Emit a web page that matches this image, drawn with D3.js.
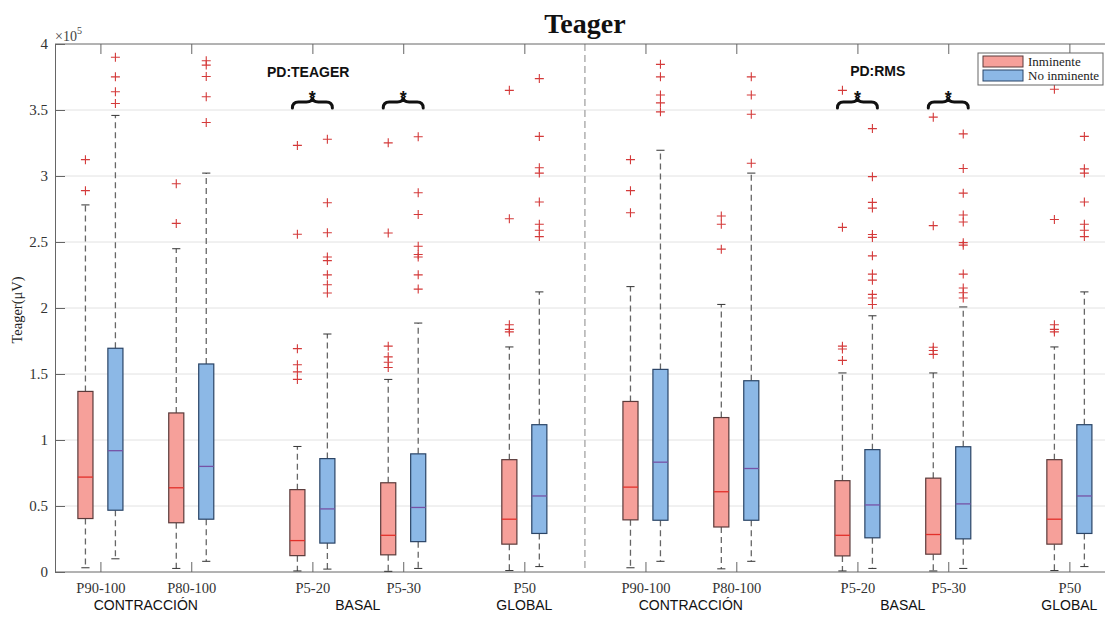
<!DOCTYPE html>
<html>
<head>
<meta charset="utf-8">
<script src="https://cdn.jsdelivr.net/npm/d3@7"></script>
<style>
  html, body { margin: 0; padding: 0; background: #fff; }
  svg { display: block; }
</style>
</head>
<body>
<svg id="chart" width="1105" height="619"></svg>
<script>
// ---------------- DATA ----------------
const categories = ["P90-100","P80-100","P5-20","P5-30","P50","P90-100","P80-100","P5-20","P5-30","P50"];
const groups = ["CONTRACCIÓN","CONTRACCIÓN","BASAL","BASAL","GLOBAL","CONTRACCIÓN","CONTRACCIÓN","BASAL","BASAL","GLOBAL"];
const seriesNames = ["Inminente", "No inminente"];
const yTicks = [0, 50000, 100000, 150000, 200000, 250000, 300000, 350000, 400000];

// Inminente
const inmWhiskerLow  = [3200, 2700, 800, 500, 1100, 3200, 2400, 800, 800, 1100];
const inmQ1          = [40500, 37300, 12400, 13000, 21100, 39500, 34100, 12200, 13500, 21100];
const inmMedian      = [71900, 63800, 23800, 27800, 40000, 64300, 60800, 27800, 28400, 40000];
const inmQ3          = [136800, 120500, 62400, 67600, 85100, 129200, 117000, 69200, 71100, 85100];
const inmWhiskerHigh = [278100, 244900, 95100, 145900, 170500, 216200, 202700, 150800, 150800, 170500];
const inmOutliers = [
  [312400, 288900],
  [294100, 264100],
  [323200, 255900, 169200, 157000, 151600, 145900],
  [325100, 256800, 171100, 163000, 158900, 154900],
  [364900, 267600, 187300, 183800, 181900],
  [312400, 288900, 272200],
  [269700, 263500, 244600],
  [364900, 261100, 171100, 168900, 160300],
  [344600, 262400, 170300, 167800, 164900],
  [365700, 267000, 187300, 183800, 181900]
];

// No inminente
const noWhiskerLow  = [10000, 8100, 2200, 2700, 4100, 8100, 8100, 2700, 2700, 4100];
const noQ1          = [46800, 40000, 21900, 23000, 29200, 39200, 39200, 25900, 25100, 29200];
const noMedian      = [91900, 80000, 47800, 48900, 57600, 83200, 78400, 50800, 51600, 57600];
const noQ3          = [169500, 157600, 85900, 89500, 111600, 153500, 144900, 92700, 94900, 111600];
const noWhiskerHigh = [345900, 302200, 180300, 188600, 212200, 319500, 302200, 194100, 200800, 212200];
const noOutliers = [
  [390000, 375100, 363800, 354900],
  [387300, 384000, 375400, 360000, 340500],
  [327800, 279700, 257000, 238600, 235900, 225100, 217600, 211400],
  [329700, 287300, 270800, 246800, 240500, 238600, 225100, 214300],
  [373800, 330000, 306200, 302200, 280300, 263500, 258900, 254100],
  [384600, 375100, 361400, 355400, 348600],
  [375100, 361400, 346800, 309700],
  [335900, 299500, 280000, 275700, 255700, 253500, 239500, 225700, 221100, 210300, 207600, 202700],
  [331900, 305700, 287000, 270500, 265100, 249500, 247600, 225700, 215100, 211600, 207600],
  [373800, 330000, 305400, 302200, 280300, 263500, 258900, 254100]
];

const annotationLabels = ["PD:TEAGER", "PD:RMS"];
const significantIdx = [2, 3, 7, 8];

// ---------------- LAYOUT ----------------
const svg = d3.select("#chart");
const W = 1105, H = 619;
const plotLeft = 55, plotTop = 44, plotBottom = 572;
const unitPx = 90.84;

// category positions: one unit per category plus 1/3 extra at each group change
let changes = 0;
const positions = categories.map((c, i) => {
  if (i > 0 && groups[i] !== groups[i - 1]) changes++;
  return i + changes / 3;
});
const xMin = -0.5, xMax = positions[positions.length - 1] + 0.5;
const x = d3.scaleLinear().domain([xMin, xMax]).range([plotLeft, plotLeft + (xMax - xMin) * unitPx]);
const y = d3.scaleLinear().domain([0, 400000]).range([plotBottom, plotTop]);
const plotRight = W;

const serif = "'Liberation Serif', 'Times New Roman', serif";
const sans = "'Liberation Sans', Arial, sans-serif";

// grid
svg.append("g")
  .selectAll("line").data(yTicks.slice(1, -1)).join("line")
  .attr("x1", plotLeft).attr("x2", plotRight)
  .attr("y1", d => y(d)).attr("y2", d => y(d))
  .attr("stroke", "#e2e2e2").attr("stroke-width", 1);

// half separator
const sepX = x((positions[4] + positions[5]) / 2);
svg.append("line")
  .attr("x1", sepX).attr("x2", sepX).attr("y1", plotTop).attr("y2", plotBottom)
  .attr("stroke", "#b0b0b0").attr("stroke-width", 1.5).attr("stroke-dasharray", "7,4");

// y axis
const yAxis = d3.axisLeft(y).tickValues(yTicks).tickSize(-10).tickPadding(7)
  .tickFormat(d => d3.format("~g")(d / 1e5));
const gy = svg.append("g").attr("transform", `translate(${plotLeft},0)`).call(yAxis);
gy.select(".domain").attr("stroke", "#666");
gy.selectAll(".tick line").attr("stroke", "#666");
gy.selectAll(".tick text").attr("font-family", serif).attr("font-size", 15).attr("fill", "#333");

// top & bottom axis lines
svg.append("line").attr("x1", plotLeft).attr("x2", plotRight).attr("y1", plotTop).attr("y2", plotTop).attr("stroke", "#666");
const xAxisBottom = d3.axisBottom(x).tickValues(positions).tickSize(-10).tickPadding(11)
  .tickFormat((d, i) => categories[i]);
const gx = svg.append("g").attr("transform", `translate(0,${plotBottom})`).call(xAxisBottom);
gx.select(".domain").remove();
svg.append("line").attr("x1", plotLeft).attr("x2", plotRight).attr("y1", plotBottom).attr("y2", plotBottom).attr("stroke", "#666");
gx.selectAll(".tick line").attr("stroke", "#666");
gx.selectAll(".tick text").attr("font-family", serif).attr("font-size", 14.5).attr("fill", "#333");
const xAxisTop = d3.axisTop(x).tickValues(positions).tickSize(-10).tickFormat("");
const gxt = svg.append("g").attr("transform", `translate(0,${plotTop})`).call(xAxisTop);
gxt.select(".domain").remove();
gxt.selectAll(".tick line").attr("stroke", "#666");

// exponent label
const expo = svg.append("text").attr("x", plotLeft).attr("y", 41)
  .attr("font-family", serif).attr("fill", "#444");
expo.append("tspan").attr("font-size", 14).text("×10");
expo.append("tspan").attr("dy", -7).attr("font-size", 10).text("5");

// y label
svg.append("text")
  .attr("transform", `translate(22,${(plotTop + plotBottom) / 2 + 2}) rotate(-90)`)
  .attr("text-anchor", "middle").attr("font-family", serif).attr("font-size", 14.5).attr("fill", "#222")
  .text("Teager(μV)");

// title
svg.append("text").attr("x", (x.range()[0] + x.range()[1]) / 2).attr("y", 33)
  .attr("text-anchor", "middle").attr("font-family", serif).attr("font-weight", "bold")
  .attr("font-size", 28).attr("fill", "#111").text("Teager");

// group labels
const groupRuns = [];
groups.forEach((g, i) => {
  const last = groupRuns[groupRuns.length - 1];
  if (last && last.name === g && last.end === i - 1) { last.end = i; }
  else groupRuns.push({ name: g, start: i, end: i });
});
svg.append("g").selectAll("text").data(groupRuns).join("text")
  .attr("x", d => x((positions[d.start] + positions[d.end]) / 2))
  .attr("y", 610).attr("text-anchor", "middle")
  .attr("font-family", sans).attr("font-size", 14).attr("fill", "#111")
  .text(d => d.name);

// ---------------- BOXES ----------------
const offset = 0.165, halfW = 0.083, capHalf = 0.045;
const series = [
  { name: seriesNames[0], lo: inmWhiskerLow, q1: inmQ1, med: inmMedian, q3: inmQ3, hi: inmWhiskerHigh, out: inmOutliers,
    fill: "#f6a09a", stroke: "#5a3a3a", medColor: "#e2302a", dx: -offset },
  { name: seriesNames[1], lo: noWhiskerLow, q1: noQ1, med: noMedian, q3: noQ3, hi: noWhiskerHigh, out: noOutliers,
    fill: "#8cb8e6", stroke: "#2a4466", medColor: "#7652a6", dx: offset }
];

series.forEach(s => {
  const g = svg.append("g");
  positions.forEach((p, i) => {
    const cx = x(p + s.dx);
    // whiskers
    g.append("line").attr("x1", cx).attr("x2", cx).attr("y1", y(s.q3[i])).attr("y2", y(s.hi[i]))
      .attr("stroke", "#666").attr("stroke-width", 1.3).attr("stroke-dasharray", "6,4");
    g.append("line").attr("x1", cx).attr("x2", cx).attr("y1", y(s.q1[i])).attr("y2", y(s.lo[i]))
      .attr("stroke", "#666").attr("stroke-width", 1.3).attr("stroke-dasharray", "6,4");
    [s.hi[i], s.lo[i]].forEach(v => {
      g.append("line").attr("x1", x(p + s.dx - capHalf)).attr("x2", x(p + s.dx + capHalf))
        .attr("y1", y(v)).attr("y2", y(v)).attr("stroke", "#333").attr("stroke-width", 1);
    });
    // box
    g.append("rect")
      .attr("x", x(p + s.dx - halfW)).attr("width", x(p + s.dx + halfW) - x(p + s.dx - halfW))
      .attr("y", y(s.q3[i])).attr("height", y(s.q1[i]) - y(s.q3[i]))
      .attr("fill", s.fill).attr("stroke", s.stroke).attr("stroke-width", 1.2);
    g.append("line").attr("x1", x(p + s.dx - halfW)).attr("x2", x(p + s.dx + halfW))
      .attr("y1", y(s.med[i])).attr("y2", y(s.med[i])).attr("stroke", s.medColor).attr("stroke-width", 1.3);
    // outliers
    s.out[i].forEach(v => {
      const oy = y(v), r = 4.5;
      g.append("path").attr("d", `M${cx - r},${oy}H${cx + r}M${cx},${oy - r}V${oy + r}`)
        .attr("stroke", "#d43a3a").attr("stroke-width", 1.1).attr("fill", "none");
    });
  });
});

// ---------------- ANNOTATIONS ----------------
svg.append("text").attr("x", x(positions[2] - 0.5)).attr("y", 77)
  .attr("font-family", sans).attr("font-weight", "bold").attr("font-size", 14).attr("fill", "#111")
  .text(annotationLabels[0]);
svg.append("text").attr("x", x(positions[7] - 0.08)).attr("y", 76)
  .attr("font-family", sans).attr("font-weight", "bold").attr("font-size", 14).attr("fill", "#111")
  .text(annotationLabels[1]);

const braceHalf = 0.22;
significantIdx.forEach(i => {
  const xc = x(positions[i]), x0 = x(positions[i] - braceHalf), x1 = x(positions[i] + braceHalf);
  const yb = 108, ym = 102, yt = 97;
  svg.append("path")
    .attr("d", `M${x0},${yb} Q${x0},${ym} ${x0 + 6},${ym} L${xc - 6},${ym} Q${xc},${ym} ${xc},${yt} Q${xc},${ym} ${xc + 6},${ym} L${x1 - 6},${ym} Q${x1},${ym} ${x1},${yb}`)
    .attr("fill", "none").attr("stroke", "#111").attr("stroke-width", 3).attr("stroke-linecap", "round");
  svg.append("text").attr("x", xc).attr("y", 104).attr("text-anchor", "middle")
    .attr("font-family", sans).attr("font-weight", "bold").attr("font-size", 18).attr("fill", "#111").text("*");
});

// ---------------- LEGEND ----------------
const lg = svg.append("g");
lg.append("rect").attr("x", 978).attr("y", 53).attr("width", 125).attr("height", 32)
  .attr("fill", "#fff").attr("stroke", "#666").attr("stroke-width", 1);
series.forEach((s, k) => {
  lg.append("rect").attr("x", 983).attr("y", 56 + k * 14).attr("width", 40).attr("height", 11)
    .attr("fill", s.fill).attr("stroke", s.stroke).attr("stroke-width", 1);
  lg.append("text").attr("x", 1028).attr("y", 66 + k * 14)
    .attr("font-family", serif).attr("font-size", 13).attr("fill", "#222").text(s.name);
});
</script>
</body>
</html>
